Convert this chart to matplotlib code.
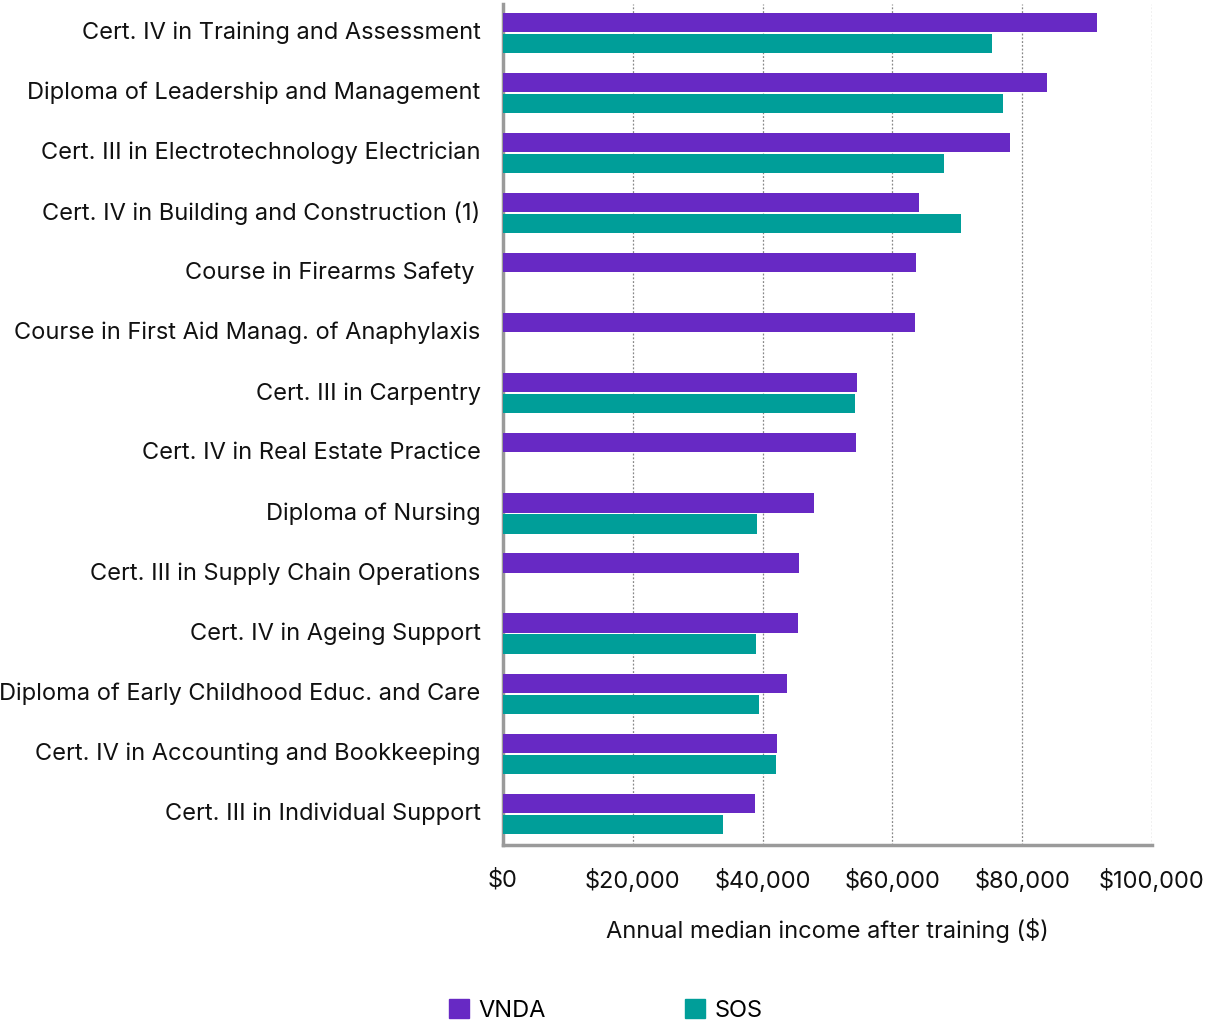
import matplotlib
matplotlib.use("Agg")

import matplotlib.pyplot as plt
import numpy as np
from matplotlib.patches import Patch

plt.rcParams["font.family"] = ["Inter", "DejaVu Sans"]

courses = [
    "Cert. IV in Training and Assessment",
    "Diploma of Leadership and Management",
    "Cert. III in Electrotechnology Electrician",
    "Cert. IV in Building and Construction (1)",
    "Course in Firearms Safety ",
    "Course in First Aid Manag. of Anaphylaxis",
    "Cert. III in Carpentry",
    "Cert. IV in Real Estate Practice",
    "Diploma of Nursing",
    "Cert. III in Supply Chain Operations",
    "Cert. IV in Ageing Support",
    "Diploma of Early Childhood Educ. and Care",
    "Cert. IV in Accounting and Bookkeeping",
    "Cert. III in Individual Support",
]
vnda = [91500, 83800, 78100, 64100, 63600, 63500, 54500, 54400,
        47900, 45600, 45400, 43700, 42200, 38800]
# nan = no SOS figure for that course
sos = [75300, 77000, 67900, 70500, np.nan, np.nan, 54200, np.nan,
       39100, np.nan, 39000, 39400, 42000, 33900]

purple = "#6729c4"
teal = "#009e99"
fs = 17

fig = plt.figure(figsize=(12.07, 10.23), dpi=100)
ax = fig.add_axes([0.4167, 0.174, 0.5377, 0.822])

y = np.arange(len(courses))
h = 0.32
off = 0.175
ax.barh(y - off, vnda, height=h, color=purple, zorder=3)
ax.barh(y + off, sos, height=h, color=teal, zorder=3)

ax.set_xlim(0, 100000)
ax.set_ylim(13.52, -0.48)
ax.set_xticks(np.arange(0, 100001, 20000))
ax.set_xticklabels([f"${v:,}" for v in range(0, 100001, 20000)])
ax.set_yticks(y)
ax.set_yticklabels(courses)
ax.tick_params(axis="both", length=0, labelsize=fs, colors="#111111")
ax.tick_params(axis="x", pad=17)
ax.tick_params(axis="y", pad=16)
for lab in ax.get_yticklabels():
    lab.set_y(lab.get_position()[1])
    lab.set_va("center")

ax.grid(axis="x", linestyle=(0, (1.5, 1.5)), color="#888888", linewidth=0.9, zorder=0)
for side in ["top", "right"]:
    ax.spines[side].set_visible(False)
for side in ["left", "bottom"]:
    ax.spines[side].set_color("#9a9a9a")
    ax.spines[side].set_linewidth(2.5)

ax.set_xlabel("Annual median income after training ($)", fontsize=fs,
              labelpad=18, color="#111111")

handles = [Patch(color=purple, label="VNDA"), Patch(color=teal, label="SOS")]
fig.legend(handles=handles, loc="center", bbox_to_anchor=(0.502, 0.012),
           ncol=2, frameon=False, fontsize=fs, handlelength=0.85,
           handleheight=0.85, handletextpad=0.4, columnspacing=5.9)

fig.savefig("out.png", dpi=100)
plt.close(fig)
